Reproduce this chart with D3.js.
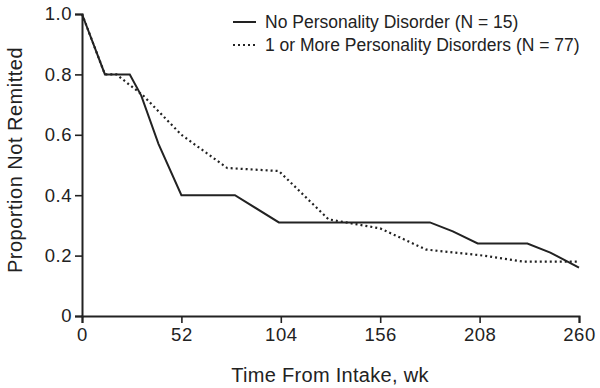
<!DOCTYPE html>
<html>
<head>
<meta charset="utf-8">
<script src="https://cdn.jsdelivr.net/npm/d3@7"></script>
<style>
  html, body { margin: 0; padding: 0; background: #fff; }
  svg { display: block; }
  text { font-family: "Liberation Sans", Arial, Helvetica, sans-serif; fill: #222; }
</style>
</head>
<body>
<svg id="chart" width="600" height="388"></svg>
<script>
// Data
const noPdWeeks  = [0, 12, 25, 31, 40, 52, 80, 103, 182, 194, 207, 233, 245, 260];
const noPdValues = [1.0, 0.80, 0.80, 0.73, 0.57, 0.40, 0.40, 0.31, 0.31, 0.28, 0.24, 0.24, 0.21, 0.16];
const pdWeeks    = [0, 12, 18, 32, 52, 76, 103, 129, 156, 180, 210, 231, 260];
const pdValues   = [1.0, 0.80, 0.80, 0.73, 0.60, 0.49, 0.48, 0.32, 0.29, 0.22, 0.20, 0.18, 0.18];
const xTicks = [0, 52, 104, 156, 208, 260];
const yTicks = [0, 0.2, 0.4, 0.6, 0.8, 1.0];
const seriesNames = ["No Personality Disorder (N = 15)", "1 or More Personality Disorders (N = 77)"];

const svg = d3.select("#chart");
const margin = { left: 82, right: 21, top: 14, bottom: 72 };
const W = 600, H = 388;

const x = d3.scaleLinear().domain([0, 260]).range([margin.left, W - margin.right]);
const y = d3.scaleLinear().domain([0, 1]).range([H - margin.bottom, margin.top]);

const fmtY = d => d === 0 ? "0" : d3.format(".1f")(d);

// Y axis
const yAxis = svg.append("g")
  .attr("transform", `translate(${margin.left},0)`)
  .call(d3.axisLeft(y).tickValues(yTicks).tickFormat(fmtY).tickSize(7).tickPadding(3));
// X axis
const xAxis = svg.append("g")
  .attr("transform", `translate(0,${H - margin.bottom})`)
  .call(d3.axisBottom(x).tickValues(xTicks).tickSize(7).tickPadding(5));

[yAxis, xAxis].forEach(g => {
  g.select(".domain").attr("stroke", "#222").attr("stroke-width", 2);
  g.selectAll(".tick line").attr("stroke", "#222").attr("stroke-width", 1.6);
  g.selectAll(".tick text").style("font-size", "18.5px").style("letter-spacing", "0.5px").attr("fill", "#222");
});

// Lines
const line = d3.line().x(d => x(d[0])).y(d => y(d[1]));
const noPd = noPdWeeks.map((w, i) => [w, noPdValues[i]]);
const pd = pdWeeks.map((w, i) => [w, pdValues[i]]);

svg.append("path").datum(pd)
  .attr("d", line).attr("fill", "none")
  .attr("stroke", "#222").attr("stroke-width", 2.2)
  .attr("stroke-dasharray", "2,3");

svg.append("path").datum(noPd)
  .attr("d", line).attr("fill", "none")
  .attr("stroke", "#222").attr("stroke-width", 2);

// Axis titles
svg.append("text")
  .attr("x", 330).attr("y", 382)
  .attr("text-anchor", "middle").style("font-size", "20px").style("letter-spacing", "0.3px")
  .text("Time From Intake, wk");

svg.append("text")
  .attr("transform", `translate(22,160) rotate(-90)`)
  .attr("text-anchor", "middle").style("font-size", "20px").style("letter-spacing", "0.5px")
  .text("Proportion Not Remitted");

// Legend
const legend = svg.append("g");
const legendRows = [
  { name: seriesNames[0], dash: null, yPos: 22 },
  { name: seriesNames[1], dash: "2,3", yPos: 45 }
];
legendRows.forEach(r => {
  legend.append("line")
    .attr("x1", 233).attr("x2", 256).attr("y1", r.yPos).attr("y2", r.yPos)
    .attr("stroke", "#222").attr("stroke-width", 2)
    .attr("stroke-dasharray", r.dash);
  legend.append("text")
    .attr("x", 265).attr("y", r.yPos + 6)
    .style("font-size", "17.5px")
    .text(r.name);
});
</script>
</body>
</html>
